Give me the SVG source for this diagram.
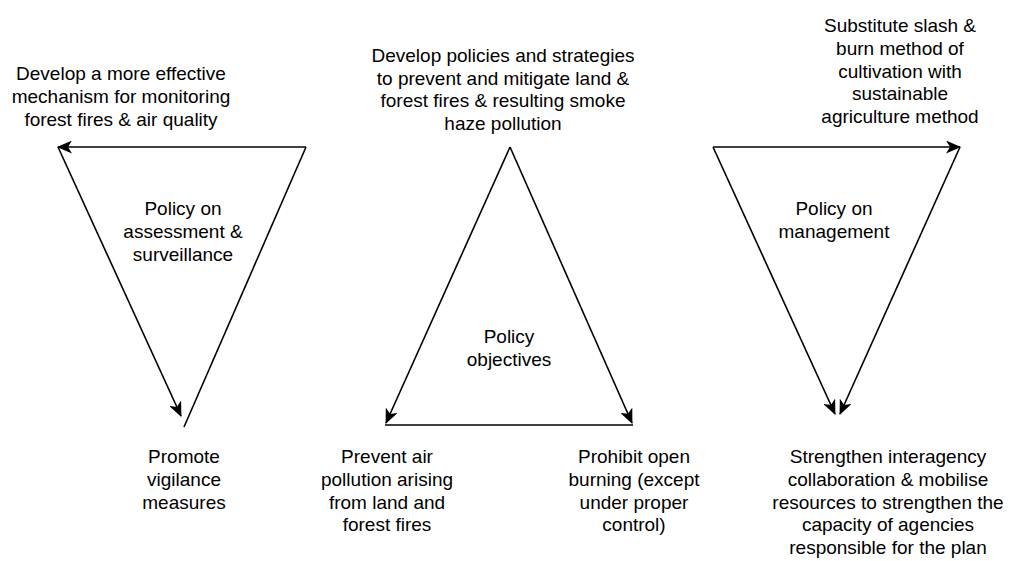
<svg xmlns="http://www.w3.org/2000/svg" width="1009" height="561" viewBox="0 0 1009 561">
<style>
.t{font-family:"Liberation Sans",Arial,sans-serif;font-size:19px;fill:#000;text-anchor:middle}
.e{stroke:#000;stroke-width:1.6;fill:none}
</style>
<defs>
<marker id="ah" markerUnits="userSpaceOnUse" markerWidth="15" markerHeight="13" viewBox="0 0 15 13" refX="14" refY="6.5" orient="auto">
<path d="M0,0 L15,6.5 L0,13 L4,6.5 Z" fill="#000"/>
</marker>
</defs>
<rect width="1009" height="561" fill="#fff"/>
<g id="connectors">
<line class="e" x1="306" y1="147" x2="58" y2="147" marker-end="url(#ah)"/>
<line class="e" x1="58" y1="147" x2="181" y2="416" marker-end="url(#ah)"/>
<line class="e" x1="306" y1="147" x2="184" y2="427"/>
<line class="e" x1="510" y1="147" x2="386" y2="423" marker-end="url(#ah)"/>
<line class="e" x1="510" y1="147" x2="632" y2="423" marker-end="url(#ah)"/>
<line class="e" x1="385" y1="425" x2="633" y2="425"/>
<line class="e" x1="713" y1="147" x2="960" y2="147" marker-end="url(#ah)"/>
<line class="e" x1="713" y1="147" x2="835" y2="414" marker-end="url(#ah)"/>
<line class="e" x1="960" y1="147" x2="840" y2="414" marker-end="url(#ah)"/>
</g>
<g id="n-monitoring">
<text class="t" x="121" y="80">Develop a more effective</text>
<text class="t" x="121" y="102.8">mechanism for monitoring</text>
<text class="t" x="121" y="125.6">forest fires &amp; air quality</text>
</g>
<g id="n-policies">
<text class="t" x="503" y="61.7">Develop policies and strategies</text>
<text class="t" x="503" y="84.5">to prevent and mitigate land &amp;</text>
<text class="t" x="503" y="107.3">forest fires &amp; resulting smoke</text>
<text class="t" x="503" y="130.1">haze pollution</text>
</g>
<g id="n-substitute">
<text class="t" x="900" y="32">Substitute slash &amp;</text>
<text class="t" x="900" y="54.8">burn method of</text>
<text class="t" x="900" y="77.6">cultivation with</text>
<text class="t" x="900" y="100.4">sustainable</text>
<text class="t" x="900" y="123.2">agriculture method</text>
</g>
<g id="n-assessment">
<text class="t" x="183" y="215">Policy on</text>
<text class="t" x="183" y="237.8">assessment &amp;</text>
<text class="t" x="183" y="260.6">surveillance</text>
</g>
<g id="n-objectives">
<text class="t" x="509" y="343">Policy</text>
<text class="t" x="509" y="365.8">objectives</text>
</g>
<g id="n-management">
<text class="t" x="834" y="215">Policy on</text>
<text class="t" x="834" y="237.8">management</text>
</g>
<g id="n-vigilance">
<text class="t" x="184" y="463">Promote</text>
<text class="t" x="184" y="485.8">vigilance</text>
<text class="t" x="184" y="508.6">measures</text>
</g>
<g id="n-prevent">
<text class="t" x="387" y="463">Prevent air</text>
<text class="t" x="387" y="485.8">pollution arising</text>
<text class="t" x="387" y="508.6">from land and</text>
<text class="t" x="387" y="531.4">forest fires</text>
</g>
<g id="n-prohibit">
<text class="t" x="634" y="463">Prohibit open</text>
<text class="t" x="634" y="485.8">burning (except</text>
<text class="t" x="634" y="508.6">under proper</text>
<text class="t" x="634" y="531.4">control)</text>
</g>
<g id="n-strengthen">
<text class="t" x="888" y="463">Strengthen interagency</text>
<text class="t" x="888" y="485.8">collaboration &amp; mobilise</text>
<text class="t" x="888" y="508.6">resources to strengthen the</text>
<text class="t" x="888" y="531.4">capacity of agencies</text>
<text class="t" x="888" y="554.2">responsible for the plan</text>
</g>
</svg>
